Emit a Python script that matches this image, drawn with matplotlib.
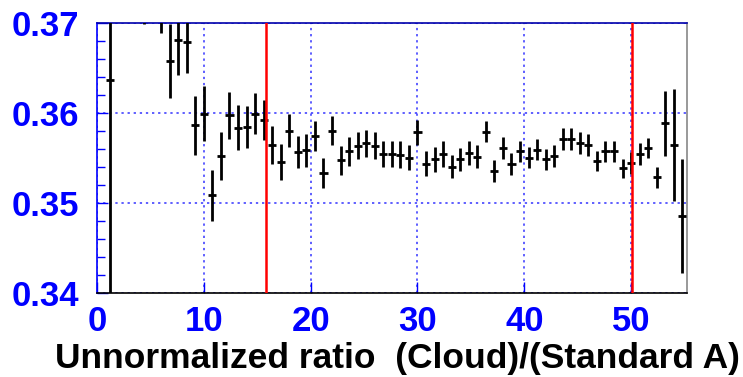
import matplotlib
matplotlib.use('Agg')
import matplotlib.pyplot as plt
from matplotlib.ticker import MultipleLocator

# bin centres (bin width 0.8), ratio values and statistical errors
bin_centres = [1.2, 4.4, 6.0, 6.8, 7.6, 8.4, 9.2, 10.0, 10.8, 11.6, 12.4, 13.2, 14.0, 14.8,
               15.6, 16.4, 17.2, 18.0, 18.8, 19.6, 20.4, 21.2, 22.0, 22.8, 23.6, 24.4, 25.2,
               26.0, 26.8, 27.6, 28.4, 29.2, 30.0, 30.8, 31.6, 32.4, 33.2, 34.0, 34.8, 35.6,
               36.4, 37.2, 38.0, 38.8, 39.6, 40.4, 41.2, 42.0, 42.8, 43.6, 44.4, 45.2, 46.0,
               46.8, 47.6, 48.4, 49.2, 50.0, 50.8, 51.6, 52.4, 53.2, 54.0, 54.8]
ratio = [0.3636, 0.3735, 0.3718, 0.3657, 0.3681, 0.3679, 0.3586, 0.3599, 0.3508, 0.3552,
         0.3597, 0.3583, 0.3584, 0.3599, 0.3592, 0.3564, 0.3545, 0.3580, 0.3556, 0.3558,
         0.3574, 0.3533, 0.3580, 0.3547, 0.3557, 0.3563, 0.3566, 0.3563, 0.3554, 0.3554,
         0.3553, 0.3550, 0.3578, 0.3543, 0.3548, 0.3554, 0.3540, 0.3548, 0.3555, 0.3551,
         0.3579, 0.3535, 0.3561, 0.3543, 0.3557, 0.3550, 0.3559, 0.3548, 0.3552, 0.3571,
         0.3571, 0.3566, 0.3564, 0.3546, 0.3557, 0.3557, 0.3538, 0.3544, 0.3554, 0.3561,
         0.3528, 0.3588, 0.3564, 0.3485]
ratio_err = [0.030, 0.0037, 0.0030, 0.0041, 0.0039, 0.0035, 0.0033, 0.0031, 0.0028, 0.0027,
             0.0026, 0.0025, 0.0023, 0.0023, 0.0022, 0.0021, 0.0020, 0.0018, 0.0018, 0.0018,
             0.0017, 0.0017, 0.0016, 0.0016, 0.0016, 0.0015, 0.0015, 0.0015, 0.0015, 0.0015,
             0.0015, 0.0014, 0.0014, 0.0014, 0.0014, 0.0014, 0.0013, 0.0013, 0.0013, 0.0013,
             0.0012, 0.0012, 0.0012, 0.0012, 0.0012, 0.0012, 0.0012, 0.0012, 0.0012, 0.0012,
             0.0012, 0.0012, 0.0012, 0.0011, 0.0012, 0.0012, 0.0011, 0.0012, 0.0012, 0.0011,
             0.0012, 0.0036, 0.0062, 0.0063]
half_bin = 0.38

# fit range boundaries
cut_lines = [15.8, 50.1]

plt.rcParams['font.family'] = ['Liberation Sans', 'DejaVu Sans']
plt.rcParams['font.weight'] = 'bold'

fig = plt.figure(figsize=(7.43, 3.77), dpi=100)
ax = fig.add_axes([0.1306, 0.2241, 0.7936, 0.7157])

ax.errorbar(bin_centres, ratio, yerr=ratio_err, xerr=half_bin, fmt='none',
            ecolor='black', elinewidth=2.0, capsize=0, zorder=3)

for xc in cut_lines:
    ax.axvline(xc, color='red', lw=1.8, zorder=4)

ax.set_xlim(0, 55.2)
ax.set_ylim(0.34, 0.37)

ax.xaxis.set_major_locator(MultipleLocator(10))
ax.yaxis.set_major_locator(MultipleLocator(0.01))
ax.yaxis.set_minor_locator(MultipleLocator(0.002))
ax.yaxis.set_major_formatter(matplotlib.ticker.FormatStrFormatter('%.2f'))

ax.grid(True, which='major', color='#3333ff', linestyle=(0, (1.5, 2.5)), lw=1.1, zorder=1)

ax.tick_params(axis='both', which='both', direction='in', colors='blue',
               labelsize=25, labelcolor='blue')
ax.tick_params(axis='y', which='major', length=8, width=1, pad=13)
ax.tick_params(axis='y', which='minor', length=6, width=1)
ax.tick_params(axis='x', which='major', length=8, width=1, pad=9)

for lab in ax.get_xticklabels() + ax.get_yticklabels():
    lab.set_fontweight('bold')

ax.spines['left'].set_color('blue')
ax.spines['top'].set_color('#0000aa')
ax.spines['bottom'].set_color('black')
ax.spines['right'].set_color('#888888')
for sp in ax.spines.values():
    sp.set_linewidth(1.2)

ax.set_xlabel('Unnormalized ratio  (Cloud)/(Standard A)', fontsize=25.5,
              fontweight='bold', color='black')
ax.xaxis.set_label_coords(1.09, -0.185)
ax.xaxis.label.set_horizontalalignment('right')

fig.savefig('out.png', dpi=100)
